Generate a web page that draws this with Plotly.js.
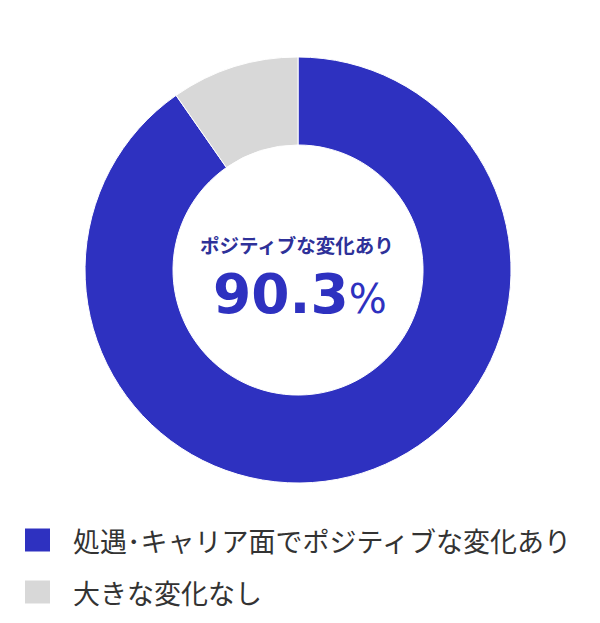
<!DOCTYPE html>
<html><head><meta charset="utf-8">
<script src="https://cdn.plot.ly/plotly-3.0.1.min.js"></script>
<style>html,body{margin:0;padding:0;background:#fff;}#chart{width:600px;height:623px;}</style>
</head><body><div id="chart"></div>
<script>
const labels = ["処遇･キャリア面でポジティブな変化あり", "大きな変化なし"];
const values = [90.3, 9.7];
const colors = ["#2e31c0", "#d8d8d8"];
const centerLabel = "ポジティブな変化あり";
const centerValue = "90.3";

const font = "'Noto Sans CJK JP', 'Noto Sans', sans-serif";

const trace = {
  type: "pie",
  labels: labels,
  values: values,
  hole: 0.587,
  sort: false,
  direction: "clockwise",
  rotation: 0,
  textinfo: "none",
  hoverinfo: "label+percent",
  marker: {colors: colors, line: {color: "#ffffff", width: 1}},
  domain: {x: [0.1417, 0.8517], y: [0.2247, 0.9085]},
  showlegend: false
};

const annotations = [
  {text: "<b>" + centerLabel + "</b>", x: 297, y: 244, xref: "x", yref: "y", showarrow: false,
   font: {family: font, size: 19.5, color: "#2e3199"}},
  {text: "<b>" + centerValue + "</b><span style='font-size:40px'>%</span>", x: 300, y: 294, xref: "x", yref: "y", showarrow: false,
   font: {family: "'DejaVu Sans', sans-serif", size: 55, color: "#2e31c0"}}
];
const shapes = [];
const rowY = [540, 592];
labels.forEach((l, i) => {
  shapes.push({type: "rect", xref: "x", yref: "y", x0: 25, x1: 50, y0: rowY[i] - 11.5, y1: rowY[i] + 11.5,
    fillcolor: colors[i], line: {width: 0}});
  annotations.push({text: l, x: 71, y: rowY[i], xref: "x", yref: "y", xanchor: "left", showarrow: false,
    font: {family: font, size: 27, color: "#333333"}});
});

const layout = {
  width: 600, height: 623,
  margin: {l: 0, r: 0, t: 0, b: 0},
  paper_bgcolor: "#ffffff", plot_bgcolor: "rgba(0,0,0,0)",
  xaxis: {range: [0, 600], visible: false, fixedrange: true},
  yaxis: {range: [623, 0], visible: false, fixedrange: true},
  annotations: annotations,
  shapes: shapes,
  showlegend: false
};
Plotly.newPlot("chart", [trace], layout, {staticPlot: true});
</script></body></html>
